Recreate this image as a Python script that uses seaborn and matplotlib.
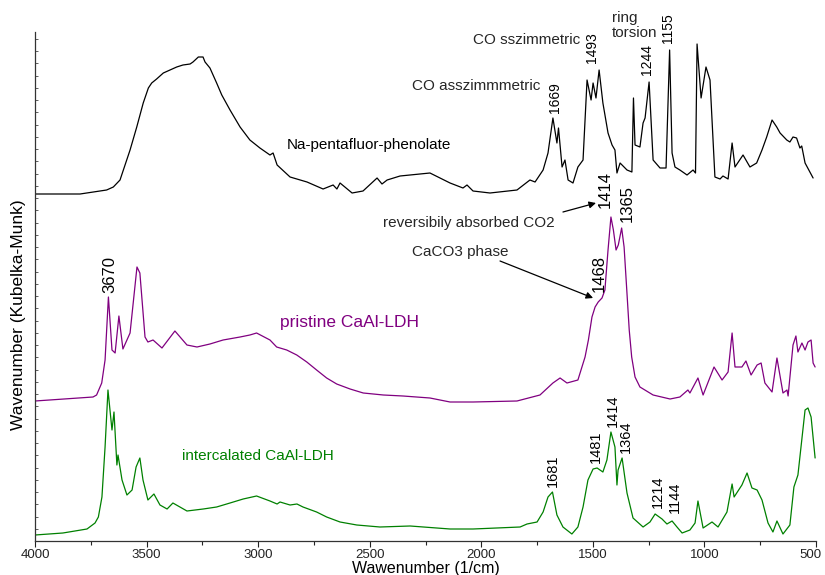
import matplotlib
matplotlib.use("Agg")
import matplotlib.pyplot as plt
import matplotlib.transforms as mtransforms
from matplotlib.ticker import MultipleLocator, NullFormatter
import seaborn as sns
import pandas as pd

# ---- data: (wavenumber 1/cm, Kubelka-Munk intensity, arbitrary units) ----
phenolate = [(4000, 347), (3798, 347), (3679, 351), (3649, 354), (3619, 361), (3604, 371),
             (3574, 391), (3544, 414), (3515, 438), (3492, 453), (3477, 458), (3455, 462),
             (3425, 468), (3395, 471), (3365, 474), (3337, 476), (3305, 477), (3292, 479),
             (3268, 484), (3247, 484), (3238, 479), (3216, 473), (3186, 458), (3163, 446),
             (3126, 431), (3081, 414), (3037, 401), (2992, 393), (2947, 386), (2933, 388),
             (2915, 376), (2857, 364), (2781, 359), (2709, 352), (2664, 356), (2647, 352),
             (2633, 358), (2579, 348), (2530, 350), (2467, 363), (2445, 357), (2422, 361),
             (2364, 365), (2230, 368), (2185, 363), (2140, 358), (2082, 353), (2064, 356),
             (2037, 350), (1961, 348), (1840, 351), (1782, 361), (1759, 359), (1723, 371),
             (1701, 388), (1679, 423), (1661, 398), (1654, 413), (1638, 374), (1625, 381),
             (1611, 361), (1589, 358), (1567, 374), (1544, 381), (1526, 461), (1508, 441),
             (1499, 458), (1486, 443), (1472, 471), (1455, 438), (1432, 408), (1414, 396),
             (1401, 391), (1392, 368), (1378, 378), (1347, 371), (1325, 369), (1318, 443),
             (1311, 396), (1289, 394), (1275, 418), (1266, 423), (1248, 459), (1230, 381),
             (1199, 373), (1172, 373), (1156, 491), (1145, 388), (1132, 374), (1110, 371),
             (1078, 366), (1051, 371), (1040, 368), (1033, 497), (1015, 443), (993, 474),
             (975, 461), (953, 364), (930, 362), (917, 365), (894, 362), (876, 398),
             (863, 374), (827, 386), (796, 374), (766, 378), (742, 391), (721, 404),
             (697, 421), (676, 414), (661, 408), (631, 401), (617, 399), (603, 404),
             (587, 403), (572, 393), (564, 395), (549, 378), (513, 363)]

pristine = [(4000, 140), (3740, 144), (3724, 146), (3701, 158), (3686, 181), (3671, 244),
            (3655, 191), (3641, 188), (3624, 225), (3606, 192), (3574, 208), (3543, 274),
            (3530, 268), (3507, 204), (3494, 199), (3471, 201), (3431, 193), (3373, 210),
            (3319, 196), (3274, 194), (3216, 197), (3157, 201), (3081, 204), (3037, 206),
            (3007, 208), (2947, 201), (2917, 194), (2872, 191), (2827, 186), (2782, 179),
            (2738, 171), (2693, 163), (2648, 157), (2588, 152), (2529, 148), (2439, 146),
            (2351, 145), (2230, 143), (2140, 139), (2037, 139), (1840, 140), (1737, 146),
            (1679, 158), (1647, 163), (1616, 158), (1567, 161), (1535, 184), (1520, 201),
            (1504, 224), (1490, 234), (1476, 239), (1459, 243), (1446, 251), (1432, 291),
            (1419, 324), (1408, 311), (1396, 291), (1386, 296), (1371, 313), (1360, 294),
            (1348, 251), (1337, 211), (1326, 184), (1311, 164), (1289, 154), (1230, 146),
            (1154, 142), (1110, 144), (1074, 151), (1065, 148), (1029, 163), (1006, 146),
            (957, 174), (921, 161), (894, 169), (876, 208), (863, 174), (832, 174),
            (814, 180), (791, 166), (764, 176), (746, 178), (729, 158), (697, 149),
            (675, 183), (648, 148), (630, 151), (625, 145), (603, 196), (590, 205),
            (581, 189), (563, 198), (549, 191), (536, 199), (522, 201), (513, 178), (504, 174)]

intercalated = [(4000, 6), (3875, 8), (3767, 12), (3731, 18), (3716, 24), (3700, 44),
                (3686, 94), (3673, 151), (3655, 111), (3646, 129), (3633, 76), (3628, 86),
                (3610, 61), (3588, 46), (3565, 51), (3547, 74), (3530, 83), (3516, 61),
                (3494, 41), (3467, 47), (3440, 36), (3408, 32), (3382, 38), (3319, 30),
                (3246, 32), (3186, 34), (3126, 38), (3067, 42), (3007, 45), (2947, 40),
                (2915, 37), (2902, 39), (2857, 36), (2826, 37), (2799, 34), (2738, 29),
                (2693, 24), (2633, 19), (2558, 16), (2454, 14), (2319, 15), (2140, 12),
                (2037, 12), (1826, 14), (1795, 17), (1750, 19), (1723, 29), (1701, 44),
                (1681, 49), (1661, 26), (1634, 14), (1594, 7), (1567, 14), (1544, 34),
                (1522, 61), (1499, 72), (1481, 73), (1455, 69), (1437, 81), (1419, 109),
                (1401, 94), (1392, 56), (1387, 71), (1369, 83), (1347, 48), (1320, 23),
                (1275, 14), (1244, 19), (1221, 27), (1190, 22), (1168, 17), (1145, 20),
                (1123, 14), (1100, 8), (1065, 11), (1042, 18), (1029, 40), (1006, 13),
                (966, 19), (939, 14), (899, 29), (876, 57), (867, 44), (832, 56),
                (809, 68), (787, 53), (764, 51), (742, 41), (715, 18), (693, 9),
                (675, 20), (648, 7), (617, 16), (599, 54), (581, 66), (549, 131),
                (536, 133), (522, 124), (504, 83)]

series_names = ["Na-pentafluor-phenolate", "pristine CaAl-LDH", "intercalated CaAl-LDH"]
series_colors = ["#000000", "#800080", "#008000"]

# peak labels: (label, wavenumber position, height of label base)
phenolate_peaks = [("1669", 1669, 428), ("1493", 1502, 478), ("1244", 1257, 466), ("1155", 1163, 498)]
pristine_peaks = [("3670", 3666, 248), ("1414", 1446, 333), ("1365", 1347, 319), ("1468", 1472, 249)]
intercalated_peaks = [("1681", 1679, 54), ("1481", 1488, 78), ("1414", 1412, 114),
                      ("1364", 1352, 88), ("1214", 1210, 33), ("1144", 1132, 28)]

x_ticks = [4000, 3500, 3000, 2500, 2000, 1500, 1000, 500]

# ---- build frame ----
rows = []
for name, data in zip(series_names, [phenolate, pristine, intercalated]):
    for wn, h in data:
        rows.append({"wn": wn, "h": h, "sample": name})
df = pd.DataFrame(rows)

sns.set_style("ticks")
plt.rcParams["font.family"] = ["Liberation Sans", "DejaVu Sans"]

fig = plt.figure(figsize=(8.25, 5.75), dpi=100)
ax = fig.add_axes([35 / 825, 34 / 575, 781 / 825, 509 / 575])

sns.lineplot(data=df, x="wn", y="h", hue="sample", hue_order=series_names,
             palette=dict(zip(series_names, series_colors)), sort=False,
             estimator=None, legend=False, lw=0.9, ax=ax)

ax.set_xlim(4000, 500)
ax.set_ylim(0, 509)
ax.set_xticks(x_ticks)
ax.xaxis.set_minor_locator(MultipleLocator(250))
ax.yaxis.set_major_locator(MultipleLocator(12.25))
ax.yaxis.set_major_formatter(NullFormatter())
ax.tick_params(axis="x", which="major", direction="out", length=4, width=0.8,
               labelsize=9.5, pad=2, colors="#222222")
ax.tick_params(axis="x", which="minor", direction="out", length=3, width=0.8, colors="#222222")
ax.tick_params(axis="y", which="major", direction="in", length=2, width=0.6, colors="#444444")
for s in ["top", "right"]:
    ax.spines[s].set_visible(False)
for s in ["left", "bottom"]:
    ax.spines[s].set_color("#333333")
    ax.spines[s].set_linewidth(0.9)

# keep the last tick label ("500") inside the figure
fig.canvas.draw()
last = ax.get_xticklabels()[-1]
last.set_transform(last.get_transform() + mtransforms.ScaledTranslation(-6 / 100, 0, fig.dpi_scale_trans))

ax.set_xlabel("Wawenumber (1/cm)", fontsize=11.5, color="black")
ax.set_ylabel("Wavenumber (Kubelka-Munk)", fontsize=12.5, color="black")
ax.xaxis.set_label_coords(0.5, -0.04)
ax.yaxis.set_label_coords(-0.012, 0.445)

# series names
ax.text(2871, 392, series_names[0], fontsize=11, color=series_colors[0], ha="left", va="baseline")
ax.text(2902, 214, series_names[1], fontsize=12.5, color=series_colors[1], ha="left", va="baseline")
ax.text(3341, 81, series_names[2], fontsize=11, color=series_colors[2], ha="left", va="baseline")

# band assignments
ax.text(1737, 451, "CO asszimmmetric", fontsize=11, ha="right", va="baseline")
ax.text(1558, 497, "CO sszimmetric", fontsize=11, ha="right", va="baseline")
ax.text(1414, 504, "ring\ntorsion", fontsize=11, ha="left", va="baseline", linespacing=1.05)
ax.text(1670, 314, "reversibily absorbed CO2", fontsize=11, ha="right", va="baseline")
ax.text(1876, 285, "CaCO3 phase", fontsize=11, ha="right", va="baseline")

arrow = dict(arrowstyle="-|>", color="black", lw=0.9, mutation_scale=10, shrinkA=0, shrinkB=0)
ax.annotate("", xy=(1486, 338), xytext=(1634, 329), arrowprops=arrow)
ax.annotate("", xy=(1499, 243), xytext=(1916, 280), arrowprops=arrow)

for peaks, size in [(phenolate_peaks, 10), (pristine_peaks, 12), (intercalated_peaks, 10.5)]:
    for lab, wn, h in peaks:
        ax.text(wn, h, lab, rotation=90, ha="center", va="bottom", fontsize=size, color="black")

fig.savefig("out.png", dpi=100)
